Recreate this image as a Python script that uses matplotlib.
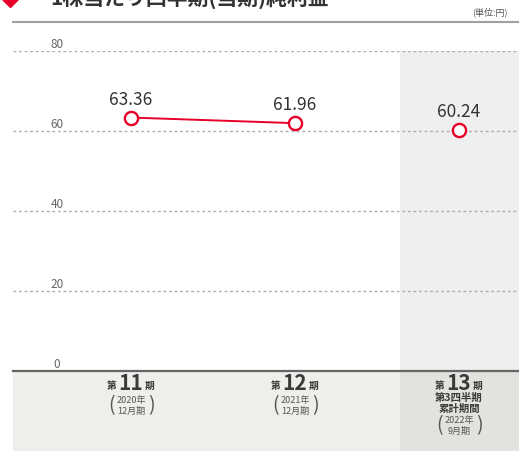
import matplotlib
matplotlib.use("Agg")
import matplotlib.pyplot as plt
import matplotlib.transforms as mtransforms
from matplotlib.patches import Rectangle

plt.rcParams['font.family'] = ['Noto Sans CJK JP', 'DejaVu Sans']

# data
periods = ["11", "12", "13"]
years = ["2020年", "2021年", "2022年"]
months = ["12月期", "12月期", "9月期"]
values = [63.36, 61.96, 60.24]
yticks = [0, 20, 40, 60, 80]
title = "1株当たり四半期(当期)純利益"
unit = "(単位:円)"

W, H = 519, 452
RED = "#e60029"

fig = plt.figure(figsize=(W / 100, H / 100), dpi=100)
fig.patch.set_facecolor("white")

def fy(py):
    return 1 - py / H

# plot area: x from 13px to 519px, y 0 -> 372px, 80 -> 52px
ax = fig.add_axes([13 / W, fy(372), (W - 13) / W, 320 / H])
ax.set_ylim(0, 80)
ax.set_xlim(-(131 - 13) / 164, 2 + (W - 459) / 164)
ax.axis("off")

# shaded column for the current (quarterly) period
ax.axvspan((400 - 131) / 164, ax.get_xlim()[1], ymin=0, ymax=1,
           color="#efefef", lw=0, zorder=0)

# dotted grid + tick labels
for t in yticks:
    if t > 0:
        ax.axhline(t, color="#adadad", lw=1, ls=(0, (2, 2)), zorder=1)
    ax.text((57 - 131) / 164, t + 1.9, str(t), ha="center", va="center",
            fontsize=8.5, color="#666666", zorder=3)

# baseline
fig.add_artist(plt.Line2D([13 / W, 1], [fy(372), fy(372)], color="#666666", lw=1.6))
# top rule
fig.add_artist(plt.Line2D([13 / W, 1], [fy(23), fy(23)], color="#a0a0a0", lw=1.5))

# bottom band
fig.add_artist(Rectangle((13 / W, 0), (W - 13) / W, fy(373), color="#eeeeea", lw=0, zorder=0))
fig.add_artist(Rectangle((400 / W, 0), (W - 400) / W, fy(373), color="#e2e2de", lw=0, zorder=0))

x = list(range(len(values)))
# first two periods connected, the quarterly figure stands alone
ax.plot(x[:2], values[:2], color=RED, lw=1.4, zorder=4)
ax.plot(x, values, ls="none", marker="o", ms=9.5, mfc="white", mec=RED, mew=1.7, zorder=5)
for xi, v in zip(x, values):
    ax.annotate(f"{v:.2f}", (xi, v), xytext=(0, 19), textcoords="offset pixels",
                ha="center", va="center", fontsize=12.5, color="#333333", zorder=6)

# category labels below the axis
tr = mtransforms.blended_transform_factory(ax.transData, fig.transFigure)
txt = "#3a3a3a"
for i, p in enumerate(periods):
    y0 = 384
    ax.text(i, fy(y0), p, transform=tr, ha="center", va="center",
            fontsize=15, fontweight="bold", color=txt)
    ax.annotate("第", (i, fy(y0)), xycoords=tr, xytext=(-19, -2), textcoords="offset pixels",
                ha="center", va="center", fontsize=7, fontweight="bold", color=txt)
    ax.annotate("期", (i, fy(y0)), xycoords=tr, xytext=(19, -2), textcoords="offset pixels",
                ha="center", va="center", fontsize=7, fontweight="bold", color=txt)
    yy = 406
    if i == 2:
        ax.text(i, fy(398), "第3四半期", transform=tr, ha="center", va="center",
                fontsize=7.5, fontweight="bold", color=txt)
        ax.text(i, fy(409), "累計期間", transform=tr, ha="center", va="center",
                fontsize=7.5, fontweight="bold", color=txt)
        yy = 426
    ax.text(i, fy(yy - 5), years[i], transform=tr, ha="center", va="center",
            fontsize=6.5, color="#555555")
    ax.text(i, fy(yy + 5), months[i], transform=tr, ha="center", va="center",
            fontsize=6.5, color="#555555")
    for s, dx in (("(", -20), (")", 20)):
        ax.annotate(s, (i, fy(yy)), xycoords=tr, xytext=(dx, 0), textcoords="offset pixels",
                    ha="center", va="center", fontsize=14, color="#555555")

# title (top cut off in the reference)
fig.text(50 / W, fy(5), title, ha="left", va="baseline", fontsize=15,
         fontweight="bold", color="#333333")
fig.add_artist(plt.Line2D([10 / W], [fy(-2)], marker="D", ms=10, color=RED, lw=0))
fig.text(508 / W, fy(12), unit, ha="right", va="center", fontsize=6.5, color="#555555")

fig.savefig("out.png", dpi=100, facecolor=fig.get_facecolor())
